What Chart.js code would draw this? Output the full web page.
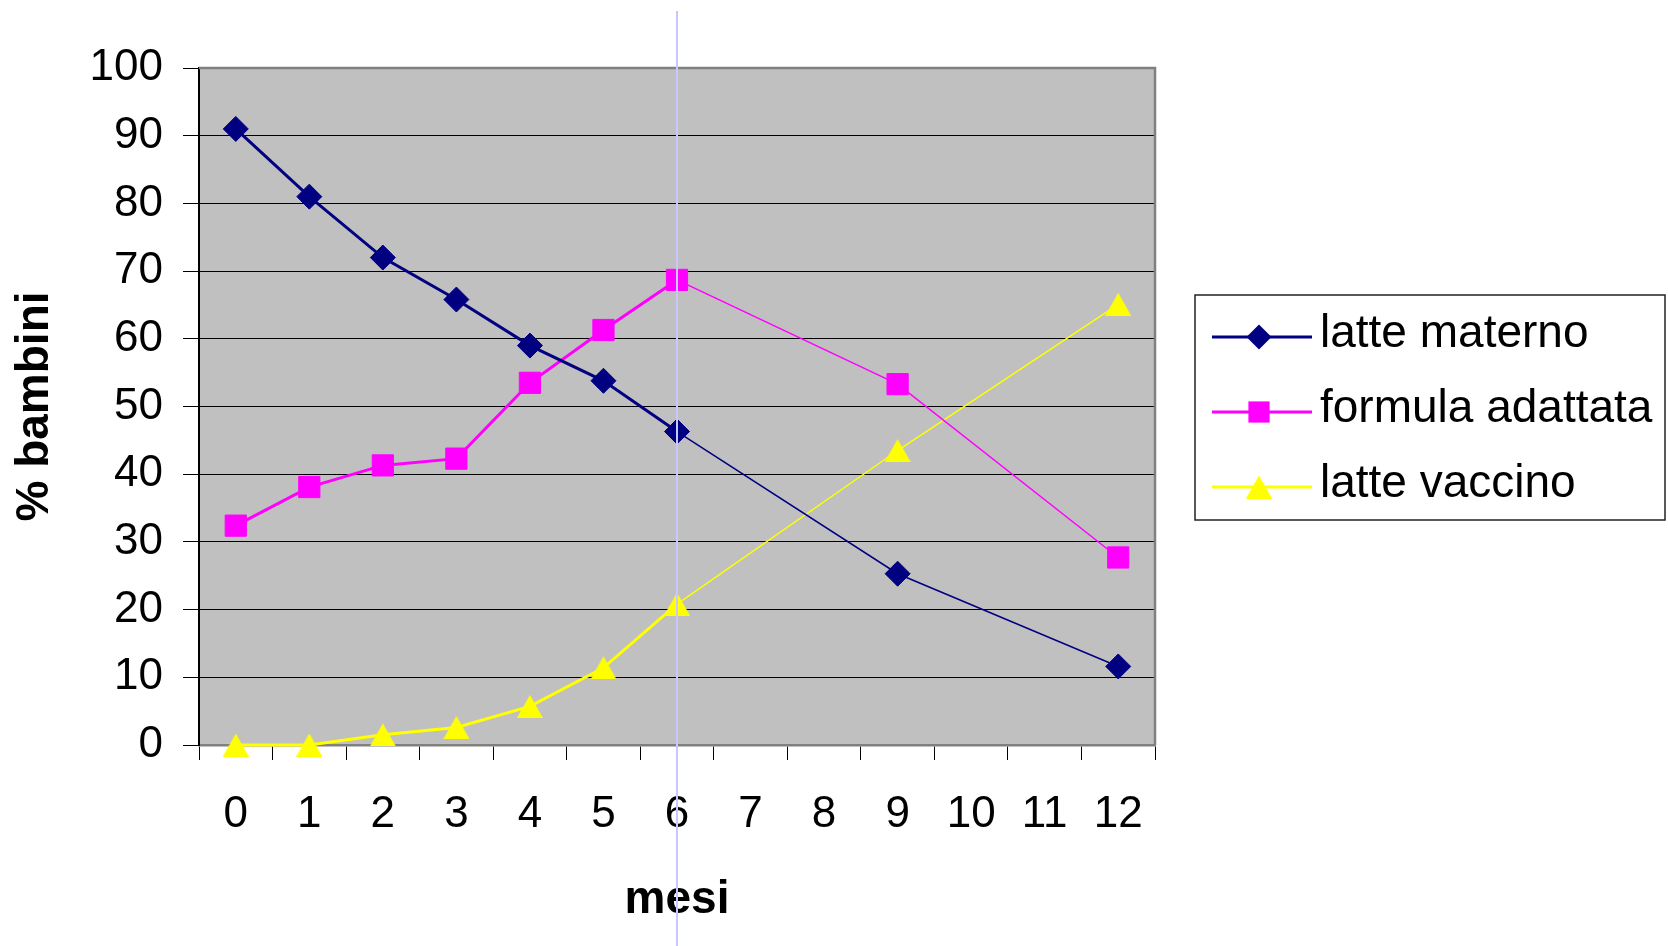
<!DOCTYPE html>
<html lang="it">
<head>
<meta charset="utf-8">
<title>Alimentazione dei bambini nel primo anno</title>
<script src="https://cdn.jsdelivr.net/npm/chart.js@4/dist/chart.umd.min.js"></script>
<style>
  html, body { margin: 0; padding: 0; background: #ffffff; }
  canvas { display: block; }
</style>
</head>
<body>
<canvas id="chart" width="1668" height="946"></canvas>
<script>
// Months of age (category axis)
const months = ['0', '1', '2', '3', '4', '5', '6', '7', '8', '9', '10', '11', '12'];

// Share of children (%) by type of milk; months without a survey are null
const latteMaterno    = [91, 81, 72, 65.8, 59, 53.8, 46.3, null, null, 25.3, null, null, 11.6];
const formulaAdattata = [32.4, 38.1, 41.3, 42.3, 53.5, 61.3, 68.7, null, null, 53.3, null, null, 27.7];
const latteVaccino    = [0, 0, 1.5, 2.6, 5.7, 11.4, 20.8, null, null, 43.5, null, null, 65.1];

// Y axis ticks
const yTicks = [0, 10, 20, 30, 40, 50, 60, 70, 80, 90, 100];

// Month marked by the vertical reference line
const markedMonth = '6';

const FONT = '"Liberation Sans", Arial, Helvetica, sans-serif';

// Thick segments up to month 6, thin afterwards
const segWidth = ctx => (ctx.p0DataIndex >= 6 ? 1.5 : 3);

// Triangle marker whose bounding box is centred on the point
function triangleMarker(color, w, h) {
  const c = document.createElement('canvas');
  c.width = w; c.height = h;
  const g = c.getContext('2d');
  g.fillStyle = color;
  g.beginPath();
  g.moveTo(w / 2, 0);
  g.lineTo(w, h);
  g.lineTo(0, h);
  g.closePath();
  g.fill();
  return c;
}

function makeSet(label, data, color, style, radius) {
  return {
    label, data,
    borderColor: color,
    backgroundColor: color,
    pointBackgroundColor: color,
    pointBorderColor: color,
    pointBorderWidth: 1,
    pointStyle: style,
    pointRadius: radius,
    pointHoverRadius: radius,
    borderWidth: 3,
    spanGaps: true,
    tension: 0,
    clip: false,
    segment: { borderWidth: segWidth }
  };
}

// Draws one legend symbol shape
function drawShape(ctx, style, x, y, r, color) {
  ctx.save();
  if (style instanceof HTMLCanvasElement) {
    ctx.drawImage(style, x - style.width / 2, y - style.height / 2);
    ctx.restore();
    return;
  }
  ctx.fillStyle = color;
  ctx.beginPath();
  if (style === 'rectRot') {
    ctx.moveTo(x - r, y); ctx.lineTo(x, y - r); ctx.lineTo(x + r, y); ctx.lineTo(x, y + r);
  } else if (style === 'rect') {
    const s = r * Math.SQRT1_2;
    ctx.rect(x - s, y - s, 2 * s, 2 * s);
  }
  ctx.closePath();
  ctx.fill();
  ctx.restore();
}

const plotFrame = {
  id: 'plotFrame',
  beforeDraw(chart) {
    const { ctx, chartArea: a } = chart;
    ctx.save();
    ctx.fillStyle = '#ffffff';
    ctx.fillRect(0, 0, chart.width, chart.height);
    ctx.fillStyle = '#c0c0c0';
    ctx.fillRect(a.left, a.top, a.right - a.left, a.bottom - a.top);
    ctx.restore();
  },
  beforeDatasetsDraw(chart) {
    const { ctx, chartArea: a } = chart;
    ctx.save();
    ctx.strokeStyle = '#808080';
    ctx.lineWidth = 2.5;
    ctx.beginPath();
    ctx.moveTo(a.left, a.top);
    ctx.lineTo(a.right, a.top);
    ctx.lineTo(a.right, a.bottom);
    ctx.stroke();
    ctx.restore();
  }
};

const legendBox = {
  id: 'legendBox',
  afterDraw(chart) {
    const { ctx } = chart;
    const box = { x: 1195, y: 295, w: 470, h: 225 };
    ctx.save();
    ctx.fillStyle = '#ffffff';
    ctx.fillRect(box.x, box.y, box.w, box.h);
    ctx.strokeStyle = '#222222';
    ctx.lineWidth = 1.5;
    ctx.strokeRect(box.x, box.y, box.w, box.h);
    chart.data.datasets.forEach((ds, i) => {
      const cy = 337 + i * 75;
      ctx.strokeStyle = ds.borderColor;
      ctx.lineWidth = 3;
      ctx.beginPath();
      ctx.moveTo(1212, cy);
      ctx.lineTo(1312, cy);
      ctx.stroke();
      drawShape(ctx, ds.pointStyle, 1259, cy, ds.pointRadius, ds.borderColor);
      ctx.fillStyle = '#000000';
      ctx.font = '46px ' + FONT;
      ctx.textAlign = 'left';
      ctx.textBaseline = 'alphabetic';
      ctx.fillText(ds.label, 1320, cy + 10);
    });
    ctx.restore();
  }
};

const monthLine = {
  id: 'monthLine',
  afterDraw(chart) {
    const { ctx } = chart;
    const x = chart.scales.x.getPixelForValue(months.indexOf(markedMonth));
    ctx.save();
    ctx.strokeStyle = '#c8c8ff';
    ctx.lineWidth = 2;
    ctx.beginPath();
    ctx.moveTo(x, 11);
    ctx.lineTo(x, chart.height);
    ctx.stroke();
    ctx.restore();
  }
};

new Chart(document.getElementById('chart'), {
  type: 'line',
  data: {
    labels: months,
    datasets: [
      makeSet('latte materno', latteMaterno, '#000080', 'rectRot', 12.5),
      makeSet('formula adattata', formulaAdattata, '#ff00ff', 'rect', 15),
      makeSet('latte vaccino', latteVaccino, '#ffff00', triangleMarker('#ffff00', 26, 23), 13)
    ]
  },
  options: {
    responsive: false,
    animation: false,
    devicePixelRatio: 1,
    layout: { padding: { top: 68, right: 513, left: 0, bottom: 0 } },
    plugins: {
      legend: { display: false },
      tooltip: { enabled: false }
    },
    scales: {
      x: {
        type: 'category',
        offset: true,
        afterFit(scale) { scale.height = 201; },
        grid: {
          offset: true,
          drawOnChartArea: false,
          drawTicks: true,
          tickLength: 15,
          tickColor: '#000000',
          tickWidth: 1
        },
        border: { color: '#808080', width: 2.5 },
        ticks: {
          color: '#000000',
          padding: 28,
          maxRotation: 0,
          autoSkip: false,
          font: { family: FONT, size: 44 }
        },
        title: {
          display: true,
          text: 'mesi',
          color: '#000000',
          padding: { top: 0, bottom: 18 },
          font: { family: FONT, size: 46, weight: 'bold' }
        }
      },
      y: {
        min: 0,
        max: 100,
        afterFit(scale) { scale.width = 199; },
        afterBuildTicks(scale) { scale.ticks = yTicks.map(v => ({ value: v })); },
        grid: {
          color: '#000000',
          lineWidth: 1,
          drawTicks: true,
          tickLength: 16,
          tickColor: '#000000'
        },
        border: { color: '#000000', width: 2 },
        ticks: {
          color: '#000000',
          padding: 20,
          font: { family: FONT, size: 44 }
        },
        title: {
          display: true,
          text: '% bambini',
          color: '#000000',
          padding: { top: 8, bottom: 0 },
          font: { family: FONT, size: 46, weight: 'bold' }
        }
      }
    }
  },
  plugins: [plotFrame, legendBox, monthLine]
});
</script>
</body>
</html>
